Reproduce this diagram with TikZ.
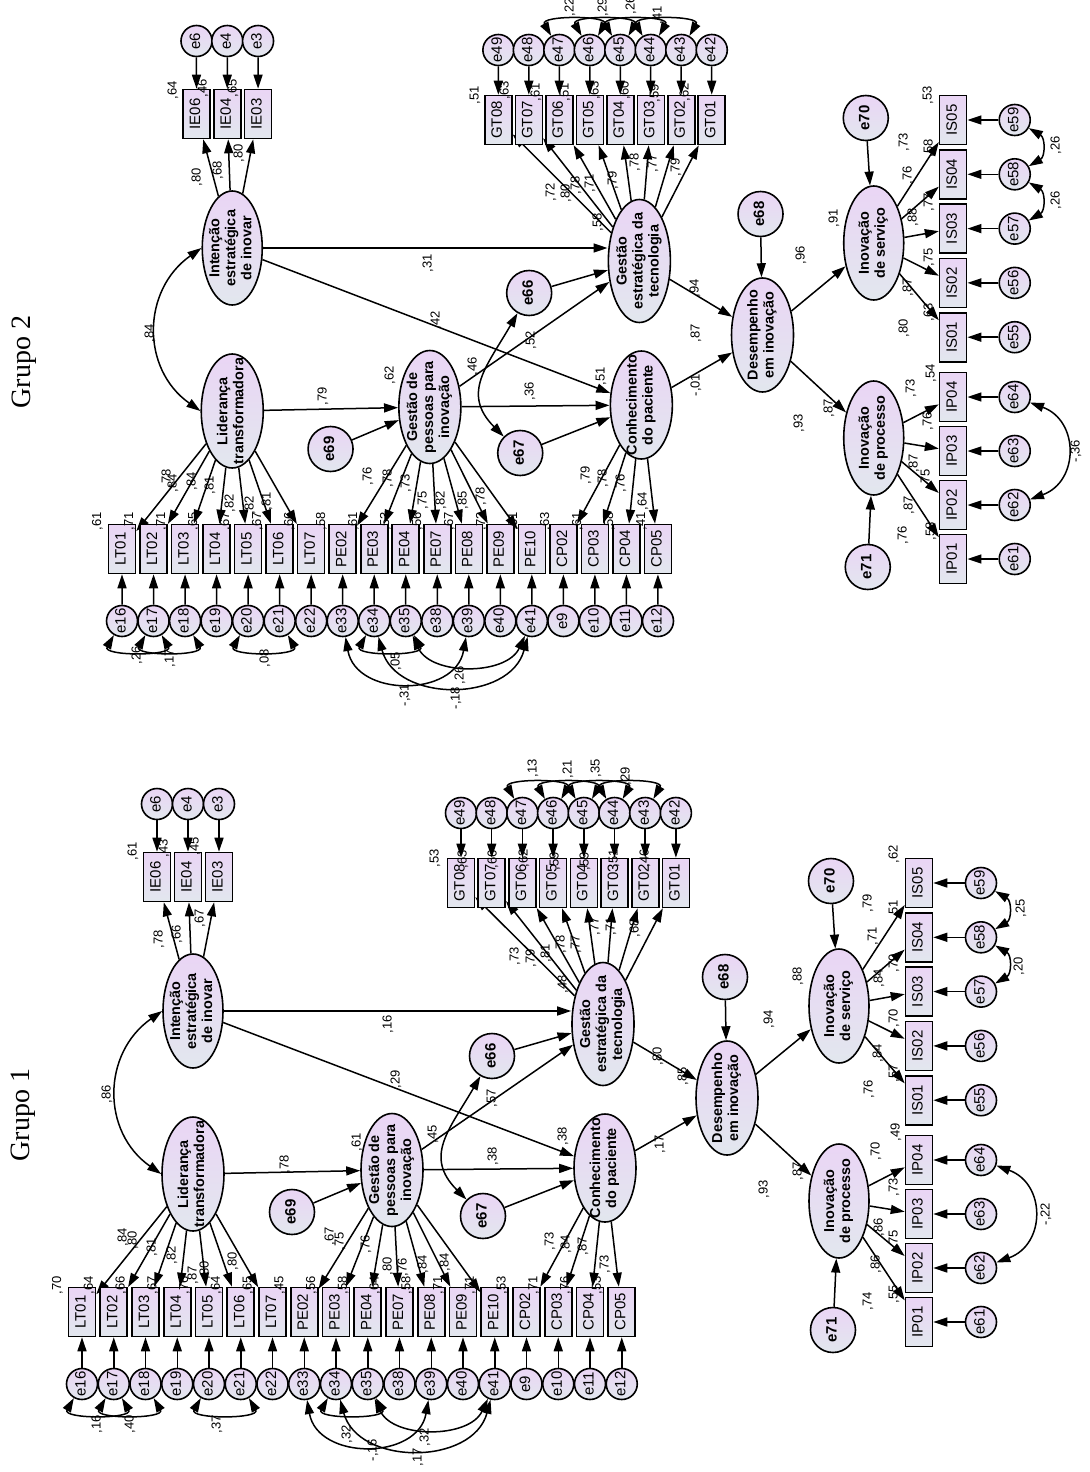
\documentclass[tikz,border=0pt]{standalone}
\usepackage{graphicx}
\usepackage{fontspec}
\setmainfont{Liberation Sans}
\newfontfamily\grupofont{Liberation Serif}
\usetikzlibrary{arrows.meta,shapes.geometric}
\definecolor{AmosLilac}{RGB}{234,213,245}
\definecolor{AmosGrey}{RGB}{226,231,238}
\newcommand{\vtxt}[1]{\rotatebox{90}{\begin{tabular}{@{}c@{}}#1\end{tabular}}}

% one group of the model (nodes and arrows, no estimates)
\newcommand{\semmodel}{%
  % latent variables
  \node[lat] (lid) at (193,1174) {\vtxt{Liderança\\transformadora}};
  \node[lat, minimum width=30pt] (int) at (193,1011) {\vtxt{Intenção\\estratégica\\de inovar}};
  \node[lat, minimum height=56.5pt] (gpi) at (392,1170) {\vtxt{Gestão de\\pessoas para\\inovação}};
  \node[lat, minimum height=54pt] (con) at (605,1168) {\vtxt{Conhecimento\\do paciente}};
  \node[lat, minimum height=61.5pt] (get) at (603,1024) {\vtxt{Gestão\\estratégica da\\tecnologia}};
  \node[lat] (des) at (727,1098) {\vtxt{Desempenho\\em inovação}};
  \node[lat, minimum width=30pt] (isv) at (839,1006) {\vtxt{Inovação\\de serviço}};
  \node[lat, minimum width=30pt] (ipr) at (839,1201) {\vtxt{Inovação\\de processo}};
  % disturbances
  \node[dist] (e66) at (492,1056) {\vtxt{e66}};
  \node[dist] (e67) at (483,1216) {\vtxt{e67}};
  \node[dist] (e68) at (725,977) {\vtxt{e68}};
  \node[dist] (e69) at (292,1212) {\vtxt{e69}};
  \node[dist] (e70) at (831,881) {\vtxt{e70}};
  \node[dist] (e71) at (833,1330) {\vtxt{e71}};
  % bottom row: LT, PE, CP
  \foreach \v/\e/\f [count=\i from 0] in {LT01/e16/lid, LT02/e17/lid, LT03/e18/lid, LT04/e19/lid,
      LT05/e20/lid, LT06/e21/lid, LT07/e22/lid, PE02/e33/gpi, PE03/e34/gpi, PE04/e35/gpi,
      PE07/e38/gpi, PE08/e39/gpi, PE09/e40/gpi, PE10/e41/gpi, CP02/e9/con, CP03/e10/con,
      CP04/e11/con, CP05/e12/con} {
    \node[ind] (\v) at ({82+31.75*\i},1312) {\vtxt{\v}};
    \node[err] (\e) at ({82+31.75*\i},1384) {\vtxt{\e}};
    \draw[reg] (\e) -- (\v);
    \draw[reg] (\f) -- (\v);
  }
  % IE
  \foreach \v/\e [count=\i from 0] in {IE06/e6, IE04/e4, IE03/e3} {
    \node[ind] (\v) at ({157+31*\i},877) {\vtxt{\v}};
    \node[err] (\e) at ({157+31*\i},804) {\vtxt{\e}};
    \draw[reg] (\e) -- (\v);
    \draw[reg] (int) -- (\v);
  }
  % GT
  \foreach \v/\e [count=\i from 0] in {GT08/e49, GT07/e48, GT06/e47, GT05/e46,
      GT04/e45, GT03/e44, GT02/e43, GT01/e42} {
    \node[ind] (\v) at ({461+30.7*\i},883) {\vtxt{\v}};
    \node[err] (\e) at ({461+30.7*\i},813) {\vtxt{\e}};
    \draw[reg] (\e) -- (\v);
    \draw[reg] (get) -- (\v);
  }
  % IS
  \foreach \v/\e [count=\i from 0] in {IS05/e59, IS04/e58, IS03/e57, IS02/e56, IS01/e55} {
    \node[ind] (\v) at (919,{883+54.3*\i}) {\vtxt{\v}};
    \node[err] (\e) at (981,{883+54.3*\i}) {\vtxt{\e}};
    \draw[reg] (\e) -- (\v);
    \draw[reg] (isv) -- (\v);
  }
  % IP
  \foreach \v/\e [count=\i from 0] in {IP04/e64, IP03/e63, IP02/e62, IP01/e61} {
    \node[ind] (\v) at (919,{1160+54*\i}) {\vtxt{\v}};
    \node[err] (\e) at (981,{1160+54*\i}) {\vtxt{\e}};
    \draw[reg] (\e) -- (\v);
    \draw[reg] (ipr) -- (\v);
  }
  % structural paths
  \draw[reg] (lid) -- (gpi);
  \draw[reg] (int) -- (int -| get.west);
  \draw[reg] (int) -- (con);
  \draw[reg] (gpi) -- (con);
  \draw[reg] (gpi) -- (get);
  \draw[reg] (e69) -- (gpi);
  \draw[reg] (e66) -- (get);
  \draw[reg] (e67) -- (con);
  \draw[reg] (get) -- (des);
  \draw[reg] (con) -- (des);
  \draw[reg] (e68) -- (des);
  \draw[reg] (des) -- (isv);
  \draw[reg] (des) -- (ipr);
  \draw[reg] (e70) -- (isv);
  \draw[reg] (e71) -- (ipr);
  % covariances
  \draw[cov] (int.west) to[out=215, in=145, looseness=1.15] (lid.west);
  \draw[cov] (e66.240) to[out=240, in=135, looseness=1.26] (e67.135);
  \foreach \a/\b in {e16/e17, e17/e18, e20/e21, e34/e35}
    \draw[cov] (\a.240) to[out=240, in=300, looseness=1.3] (\b.300);
  \draw[cov] (e33.280) to[out=280, in=260, looseness=1.3] (e39.260);
  \draw[cov] (e34.285) to[out=285, in=255, looseness=1.17] (e41.255);
  \draw[cov] (e35.295) to[out=295, in=245, looseness=1.0] (e41.245);
  \foreach \a/\b in {e47/e46, e46/e45, e45/e44, e44/e43}
    \draw[cov] (\a.120) to[out=120, in=60, looseness=1.3] (\b.60);
  \foreach \a/\b in {e59/e58, e58/e57}
    \draw[cov] (\a.-30) to[out=-30, in=30, looseness=1.3] (\b.30);
  \draw[cov] (e64.-20) to[out=-20, in=20, looseness=1.4] (e62.20);
}

\begin{document}
\begin{tikzpicture}[x=0.5pt, y=-0.5pt,
    shaded/.style={draw, line width=0.8pt, top color=AmosLilac, bottom color=AmosGrey},
    ind/.style={shaded, rectangle, minimum width=13.5pt, minimum height=24.5pt,
                inner sep=0pt, font=\fontsize{7.5}{9}\selectfont},
    err/.style={shaded, circle, minimum size=15.5pt, inner sep=0pt,
                font=\fontsize{7.5}{9}\selectfont},
    dist/.style={shaded, circle, minimum size=22.5pt, inner sep=0pt,
                 font=\bfseries\fontsize{7.5}{9}\selectfont},
    lat/.style={shaded, ellipse, minimum width=31pt, minimum height=57pt,
                inner xsep=-3pt, inner ysep=-10pt, font=\bfseries\fontsize{7.2}{8}\selectfont},
    reg/.style={-{Triangle[length=7pt,width=4.5pt]}, line width=0.75pt},
    cov/.style={{Triangle[length=7pt,width=4.5pt]}-{Triangle[length=7pt,width=4.5pt]}, line width=0.75pt},
    lbl/.style={rotate=90, inner sep=0pt, font=\fontsize{6.5}{7}\selectfont},
    grupo/.style={rotate=90, inner sep=0pt, font=\grupofont\fontsize{14}{16}\selectfont},
  ]
  \fill[white] (0,0) rectangle (1089,1472);
  \useasboundingbox (0,0) rectangle (1089,1472);

  % Grupo 1
  \semmodel
  % Grupo 2
  \begin{scope}[shift={(40.6,-763)}, xscale=0.993]
    \semmodel
  \end{scope}

  \node[grupo] (g1) at (23,1115) {Grupo 1};
  \node[grupo] (g2) at (24,362) {Grupo 2};

  % estimates, Grupo 1
  \foreach \t/\x/\y [count=\k] in {{,78}/285/1164, {,61}/357/1142, {,38}/493/1156, {,38}/563/1136,
      {,57}/492/1098, {,45}/433/1134, {,17}/660/1144, {,29}/396/1079, {,16}/388/1024,
      {,48}/563/984, {,80}/658/1056, {,85}/683/1076, {,94}/769/1019, {,88}/798/976,
      {,93}/764/1189, {,87}/798/1171, {,86}/107/1094,
      {,25}/1021/908, {,20}/1019/966, {-,22}/1046/1214, {,16}/97/1424, {,40}/130/1424,
      {,37}/217/1424, {,32}/347/1434, {-,16}/373/1450, {,17}/418/1457, {,32}/425/1437,
      {,13}/533/768, {,21}/568/769, {,35}/596/768, {,29}/626/776,
      {,61}/133/851, {,43}/164/848, {,45}/195/846, {,78}/159/939, {,66}/177/934, {,67}/200/918,
      {,53}/435/858, {,63}/463/859, {,66}/493/859, {,62}/524/858, {,59}/555/861, {,59}/585/861,
      {,51}/614/858, {,46}/645/858, {,73}/515/956, {,79}/531/958, {,81}/546/953, {,78}/561/944,
      {,77}/576/944, {,77}/595/926, {,71}/611/926, {,68}/635/928,
      {,62}/894/854, {,51}/894/909, {,70}/894/963, {,70}/894/1018, {,57}/894/1073,
      {,79}/868/903, {,71}/873/936, {,84}/879/978, {,84}/878/1053, {,76}/869/1089,
      {,49}/896/1132, {,73}/894/1187, {,75}/894/1239, {,55}/894/1294,
      {,70}/876/1151, {,86}/879/1227, {,86}/876/1264, {,74}/868/1301,
      {,84}/123/1237, {,80}/133/1240, {,81}/152/1247, {,82}/172/1255, {,87}/193/1275,
      {,80}/205/1270, {,80}/233/1261,
      {,67}/330/1236, {,75}/340/1241, {,76}/366/1244, {,80}/388/1266, {,76}/403/1267,
      {,84}/423/1264, {,84}/445/1262,
      {,73}/550/1241, {,84}/566/1244, {,87}/583/1246, {,73}/605/1264}
    \node[lbl] (a\k) at (\x,\y) {\t};
  \foreach \t [count=\i from 0] in {{,70},{,64},{,66},{,67},{,76},{,64},{,65},{,45},{,56},
      {,58},{,64},{,58},{,71},{,71},{,53},{,71},{,76},{,53}}
    \node[lbl] (ar\i) at ({57.5+31.75*\i},1285) {\t};

  % estimates, Grupo 2
  \foreach \t/\x/\y [count=\k] in {{,84}/150/333, {,79}/323/396, {,62}/390/375, {,46}/473/366,
      {,36}/530/391, {,51}/601/376, {-,01}/696/385, {,31}/428/263, {,42}/436/320,
      {,52}/531/340, {,58}/598/222, {,94}/695/288, {,87}/696/333, {,96}/801/255,
      {,91}/834/218, {,93}/799/423, {,87}/829/408,
      {,26}/1056/145, {,26}/1056/200, {-,36}/1076/451, {,26}/137/655, {,17}/170/658,
      {,08}/265/658, {,05}/396/661, {-,31}/405/695, {,26}/460/675, {-,18}/456/698,
      {,22}/570/7, {,29}/603/7, {,26}/631/5, {,41}/658/15,
      {,64}/173/90, {,46}/203/88, {,65}/233/88, {,80}/197/177, {,68}/218/170, {,80}/239/153,
      {,51}/475/95, {,63}/505/90, {,61}/536/92, {,51}/565/92, {,63}/595/90, {,60}/625/90,
      {,59}/655/93, {,62}/685/92, {,72}/551/192, {,80}/566/193, {,78}/576/185, {,71}/590/183,
      {,79}/613/180, {,78}/635/162, {,77}/653/163, {,79}/676/167,
      {,53}/928/95, {,58}/929/148, {,77}/929/202, {,75}/929/257, {,63}/929/312,
      {,73}/904/142, {,76}/908/175, {,88}/913/217, {,87}/908/287, {,80}/904/328,
      {,54}/931/373, {,76}/928/421, {,75}/926/478, {,58}/931/531,
      {,73}/911/388, {,87}/914/463, {,87}/909/505, {,76}/903/535,
      {,78}/167/478, {,84}/173/483, {,84}/192/481, {,81}/210/485, {,82}/230/503,
      {,82}/250/505, {,81}/267/501,
      {,76}/368/476, {,78}/388/478, {,73}/406/483, {,75}/423/500, {,82}/441/500,
      {,85}/463/500, {,78}/481/496,
      {,79}/586/475, {,78}/603/478, {,76}/621/483, {,64}/643/501}
    \node[lbl] (b\k) at (\x,\y) {\t};
  \foreach \t [count=\i from 0] in {{,61},{,71},{,71},{,65},{,67},{,67},{,66},{,58},{,61},
      {,53},{,56},{,67},{,72},{,61},{,63},{,61},{,58},{,41}}
    \node[lbl] (br\i) at ({97.5+32*\i},521) {\t};
\end{tikzpicture}
\end{document}
